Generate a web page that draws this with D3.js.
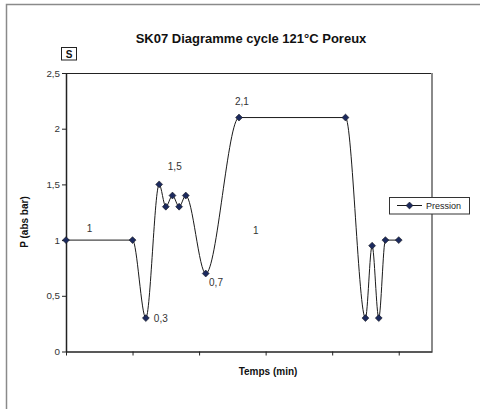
<!DOCTYPE html>
<html><head><meta charset="utf-8">
<script src="https://cdn.jsdelivr.net/npm/d3@7"></script>
<style>body{margin:0;background:#fff}svg{display:block;font-family:Arial,"Liberation Sans",sans-serif}</style>
</head><body>
<script>
const times = [0, 10, 12, 14, 15, 16, 17, 18, 21, 26, 42, 45, 46, 47, 48, 50];
const pression = [1, 1, 0.3, 1.5, 1.3, 1.4, 1.3, 1.4, 0.7, 2.1, 2.1, 0.3, 0.95, 0.3, 1, 1];
const yTicks = [0, 0.5, 1, 1.5, 2, 2.5];
const xTicks = [0, 10, 20, 30, 40, 50];
const labelTexts = ["1", "1,5", "0,3", "0,7", "2,1", "1"];
const labelX = [3.1, 15.3, 13.2, 21.5, 25.4, 28.1];
const labelY = [1.1, 1.66, 0.3, 0.62, 2.24, 1.09];

const W = 480, H = 409;
const m = {l: 66, r: 432, t: 73, b: 351.5};
const svg = d3.select("body").append("svg").attr("width", W).attr("height", H);

svg.append("rect").attr("x", 6.5).attr("y", 4.5).attr("width", 490).attr("height", 420)
  .attr("fill", "#fff").attr("stroke", "#8a8a8a").attr("stroke-width", 1.5);

const x = d3.scaleLinear().domain([0, 55]).range([m.l, m.r]);
const y = d3.scaleLinear().domain([0, 2.5]).range([m.b, m.t]);

svg.append("text").attr("x", 251).attr("y", 43).attr("text-anchor", "middle")
  .attr("font-weight", "bold").attr("font-size", 13).attr("fill", "#111")
  .text("SK07 Diagramme cycle 121°C Poreux");

svg.append("rect").attr("x", 61.5).attr("y", 47.5).attr("width", 15).attr("height", 12.5)
  .attr("fill", "#fff").attr("stroke", "#222").attr("stroke-width", 1);
svg.append("text").attr("x", 69).attr("y", 57.5).attr("text-anchor", "middle")
  .attr("font-weight", "bold").attr("font-size", 10).attr("fill", "#111").text("S");

// plot frame top & right
svg.append("line").attr("x1", m.l).attr("x2", m.r).attr("y1", m.t + 0.5).attr("y2", m.t + 0.5)
  .attr("stroke", "#222").attr("stroke-width", 1);
svg.append("line").attr("x1", m.r).attr("x2", m.r).attr("y1", m.t).attr("y2", m.b)
  .attr("stroke", "#8a8a8a").attr("stroke-width", 2);

const yAxis = svg.append("g").attr("transform", `translate(${m.l},0)`)
  .call(d3.axisLeft(y).tickValues(yTicks).tickSize(4).tickSizeOuter(0)
    .tickFormat(d => String(d).replace(".", ",")));
yAxis.select(".domain").attr("stroke", "#222").attr("stroke-width", 1.5);
yAxis.selectAll(".tick line").attr("stroke", "#222");
yAxis.selectAll(".tick text").attr("font-size", 9.8).attr("fill", "#333").attr("font-family", "Arial, Liberation Sans, sans-serif").attr("x", -6);

const xAxis = svg.append("g").attr("transform", `translate(0,${m.b})`)
  .call(d3.axisBottom(x).tickValues(xTicks).tickSize(4).tickSizeOuter(0).tickFormat(""));
xAxis.select(".domain").attr("stroke", "#222").attr("stroke-width", 1.5);
xAxis.selectAll(".tick line").attr("stroke", "#222");

svg.append("text").attr("transform", `translate(28,222) rotate(-90)`).attr("text-anchor", "middle")
  .attr("font-weight", "bold").attr("font-size", 10).attr("fill", "#111").text("P (abs bar)");
svg.append("text").attr("x", 268).attr("y", 375).attr("text-anchor", "middle")
  .attr("font-weight", "bold").attr("font-size", 10).attr("fill", "#111").text("Temps (min)");

const pts = times.map((t, i) => [t, pression[i]]);
const line = d3.line().x(d => x(d[0])).y(d => y(d[1])).curve(d3.curveMonotoneX);
svg.append("path").attr("d", line(pts)).attr("fill", "none").attr("stroke", "#1a1a1a").attr("stroke-width", 1);

const marker = d3.symbol().type(d3.symbolSquare).size(24);
svg.selectAll(".pt").data(pts).join("path").attr("class", "pt")
  .attr("transform", d => `translate(${x(d[0])},${y(d[1])}) rotate(45)`)
  .attr("d", marker).attr("fill", "#1c2a5e").attr("stroke", "#111").attr("stroke-width", 0.5);

svg.selectAll(".lbl").data(labelTexts).join("text").attr("class", "lbl")
  .attr("x", (d, i) => x(labelX[i])).attr("y", (d, i) => y(labelY[i]) + 3.5)
  .attr("font-size", 10).attr("fill", "#333").text(d => d);

// legend
const lg = svg.append("g");
lg.append("rect").attr("x", 389.5).attr("y", 197.5).attr("width", 80).attr("height", 16.5)
  .attr("fill", "#fff").attr("stroke", "#333").attr("stroke-width", 1);
lg.append("line").attr("x1", 397).attr("x2", 422).attr("y1", 205.5).attr("y2", 205.5)
  .attr("stroke", "#1a1a1a").attr("stroke-width", 1);
lg.append("path").attr("transform", "translate(409.5,205.5) rotate(45)").attr("d", marker)
  .attr("fill", "#1c2a5e").attr("stroke", "#111").attr("stroke-width", 0.5);
lg.append("text").attr("x", 426).attr("y", 209).attr("font-size", 9).attr("fill", "#222").text("Pression");
</script>
</body></html>
